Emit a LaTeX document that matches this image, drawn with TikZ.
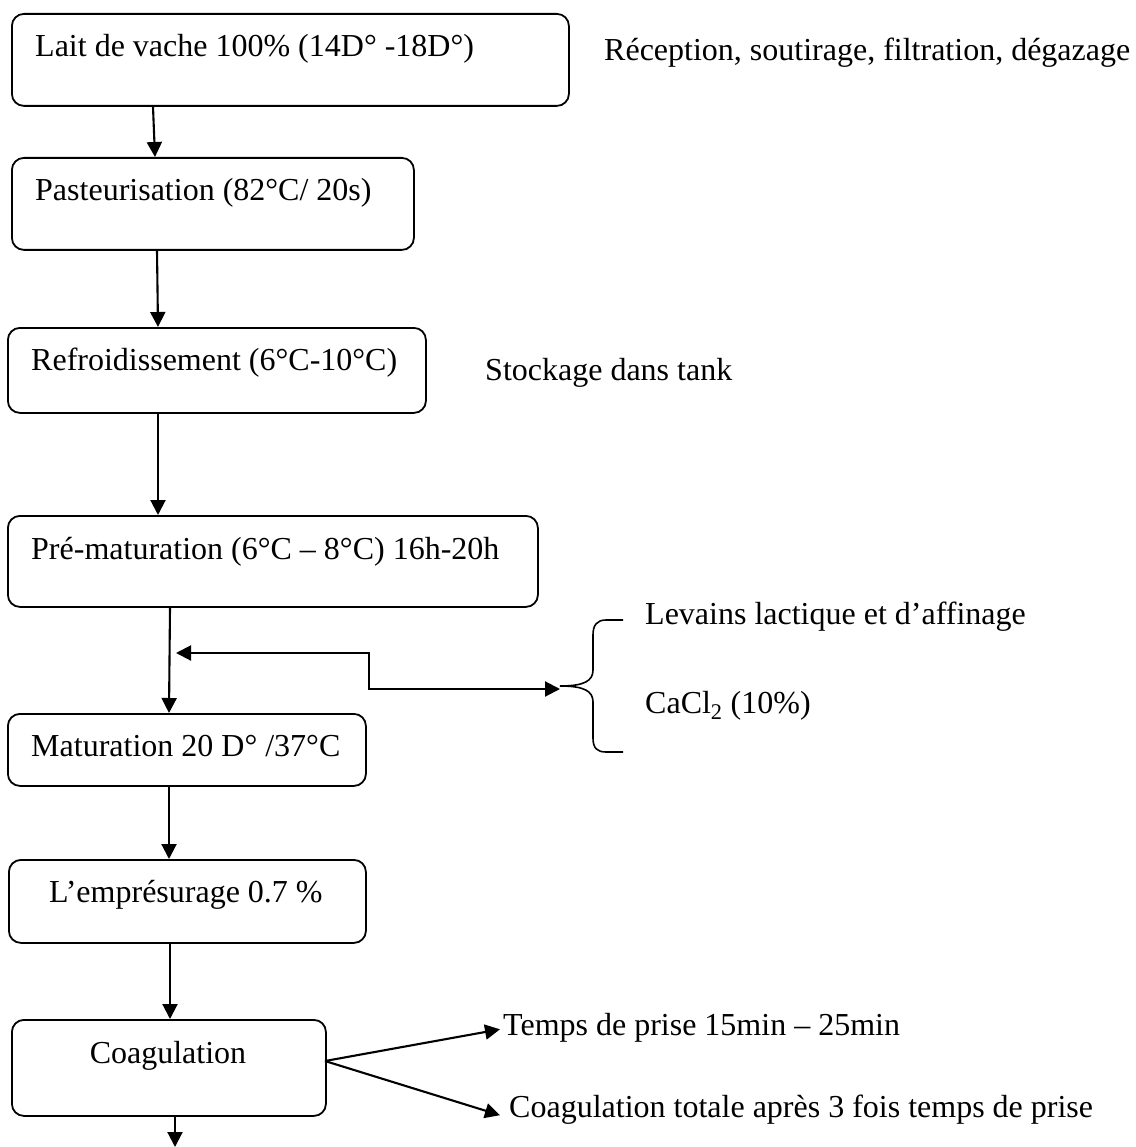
\documentclass[tikz,border=0pt]{standalone}
\usepackage{fontspec}
\setmainfont{Liberation Serif}
\usetikzlibrary{arrows.meta}
\begin{document}
\begin{tikzpicture}[x=1pt,y=-1pt,
  box/.style={draw,line width=1.8pt,rounded corners=12pt,anchor=north west,inner sep=0pt},
  txt/.style={anchor=base west,inner sep=0pt,font=\fontsize{32}{36}\selectfont},
  tip/.tip={Triangle[length=15pt,width=15pt]},
  arr/.style={line width=2.1pt,-tip},
  dbl/.style={line width=2.1pt,tip-tip}]
\useasboundingbox (0,0) rectangle (1135,1147);
% boxes
\node[box,minimum width=557pt,minimum height=92pt] (b1) at (11,13) {};
\node[box,minimum width=402pt,minimum height=92pt] (b2) at (11,157) {};
\node[box,minimum width=418pt,minimum height=85pt] (b3) at (7,327) {};
\node[box,minimum width=530pt,minimum height=91pt] (b4) at (7,515) {};
\node[box,minimum width=358pt,minimum height=72pt] (b5) at (7,713) {};
\node[box,minimum width=357pt,minimum height=83pt] (b6) at (8,859) {};
\node[box,minimum width=314pt,minimum height=96pt] (b7) at (11,1019) {};
% box texts
\node[txt] (t1) at (35,57) {Lait de vache 100\% (14D° -18D°)};
\node[txt] (t2) at (35,201) {Pasteurisation (82°C/ 20s)};
\node[txt] (t3) at (31,370) {Refroidissement (6°C-10°C)};
\node[txt] (t4) at (31,559) {Pré-maturation (6°C – 8°C) 16h-20h};
\node[txt] (t5) at (31,756) {Maturation 20 D° /37°C};
\node[txt] (t6) at (49,902) {L’emprésurage 0.7 \%};
\node[txt,anchor=base] (t7) at (168,1063) {Coagulation};
% side texts
\node[txt] (s1) at (604,61) {Réception, soutirage, filtration, dégazage};
\node[txt] (s2) at (485,380) {Stockage dans tank};
\node[txt] (s3) at (645,624) {Levains lactique et d’affinage};
\node[txt] (s4) at (645,713) {CaCl\textsubscript{2} (10\%)};
\node[txt] (s5) at (503,1035) {Temps de prise 15min – 25min};
\node[txt] (s6) at (509,1117) {Coagulation totale après 3 fois temps de prise};
% main connectors
\draw[arr] ([xshift=142pt]b1.south west) -- ([xshift=144pt]b2.north west);
\draw[arr] ([xshift=146pt]b2.south west) -- ([xshift=151pt]b3.north west);
\draw[arr] ([xshift=151pt]b3.south west) -- ([xshift=151pt]b4.north west);
\draw[arr] ([xshift=163pt]b4.south west) -- ([xshift=162pt]b5.north west);
\draw[arr] ([xshift=162pt]b5.south west) -- ([xshift=161pt]b6.north west);
\draw[arr] ([xshift=162pt]b6.south west) -- ([xshift=159pt]b7.north west);
\coordinate (end) at (175,1147);
\draw[arr] ([xshift=164pt]b7.south west) -- (end);
% brace
\coordinate (btip) at (560,686);
\draw[line width=1.6pt] (623,620) -- (606,620) .. controls (597,620) and (593,625) .. (593,635)
  -- (593,670) .. controls (593,681) and (584,686) .. (btip)
  .. controls (584,686) and (593,691) .. (593,702)
  -- (593,738) .. controls (593,748) and (597,752) .. (606,752) -- (623,752);
% side feed connector
\coordinate (join) at (176,653);
\coordinate (feedend) at (560,689);
\draw[dbl] (join) -- (369,653) -- (369,689) -- (feedend);
% coagulation outputs
\coordinate (cg) at (325,1061);
\draw[arr] (cg) -- ([xshift=-3pt,yshift=-2pt]s5.west);
\draw[arr] (cg) -- ([xshift=-9pt,yshift=-6pt]s6.west);
\end{tikzpicture}
\end{document}
